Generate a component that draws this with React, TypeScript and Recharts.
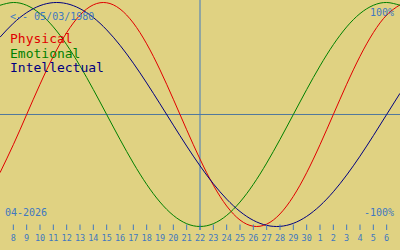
import { LineChart, Line, XAxis, YAxis, ReferenceLine } from "recharts";

// day index 0 = 7 April, 15 = 22 April (today), 30 = 7 May
const dayIndex = [
  0, 1, 2, 3, 4, 5, 6, 7, 8, 9, 10, 11, 12, 13, 14, 15, 16, 17, 18, 19, 20, 21,
  22, 23, 24, 25, 26, 27, 28, 29, 30,
];

const physical = [
  -0.5196, -0.2698, 0, 0.2698, 0.5196, 0.7308, 0.8879, 0.9791, 0.9977, 0.9423,
  0.817, 0.6311, 0.3984, 0.1362, -0.1362, -0.3984, -0.6311, -0.817, -0.9423,
  -0.9977, -0.9791, -0.8879, -0.7308, -0.5196, -0.2698, 0, 0.2698, 0.5196,
  0.7308, 0.8879, 0.9791,
];

const emotional = [
  0.9749, 1, 0.9749, 0.901, 0.7818, 0.6235, 0.4339, 0.2225, 0, -0.2225,
  -0.4339, -0.6235, -0.7818, -0.901, -0.9749, -1, -0.9749, -0.901, -0.7818,
  -0.6235, -0.4339, -0.2225, 0, 0.2225, 0.4339, 0.6235, 0.7818, 0.901, 0.9749,
  1, 0.9749,
];

const intellectual = [
  0.6901, 0.8146, 0.9096, 0.9718, 0.9989, 0.9898, 0.945, 0.866, 0.7557, 0.6182,
  0.4582, 0.2817, 0.0951, -0.0951, -0.2817, -0.4582, -0.6182, -0.7557, -0.866,
  -0.945, -0.9898, -0.9989, -0.9718, -0.9096, -0.8146, -0.6901, -0.5406,
  -0.3717, -0.1893, 0, 0.1893,
];

const tickDays = [
  "8", "9", "10", "11", "12", "13", "14", "15", "16", "17", "18", "19", "20",
  "21", "22", "23", "24", "25", "26", "27", "28", "29", "30", "1", "2", "3",
  "4", "5", "6",
];

const data = dayIndex.map((i) => ({
  i,
  physical: physical[i],
  emotional: emotional[i],
  intellectual: intellectual[i],
}));

const BG = "#e0d282";
const AXIS_BLUE = "#4078c0";
const MONO = "'DejaVu Sans Mono', 'Liberation Mono', monospace";

const DayTick = (props: any) => {
  const { x, y, payload } = props;
  const label = tickDays[payload.value - 1];
  return (
    <g>
      <line x1={x} x2={x} y1={y - 5.5} y2={y} stroke={AXIS_BLUE} strokeWidth={1} />
      <text
        x={x}
        y={y + 11}
        fill={AXIS_BLUE}
        textAnchor="middle"
        fontSize={8.5}
        fontFamily={MONO}
      >
        {label}
      </text>
    </g>
  );
};

export default function App() {
  return (
    <div
      style={{
        position: "absolute",
        left: 0,
        top: 0,
        width: 400,
        height: 250,
        background: BG,
        overflow: "hidden",
      }}
    >
      <LineChart
        width={400}
        height={250}
        data={data}
        margin={{ top: 0, right: 0, bottom: 0, left: 0 }}
      >
        <XAxis
          dataKey="i"
          type="number"
          domain={[0, 30]}
          ticks={dayIndex.slice(1, 30)}
          interval={0}
          height={20}
          axisLine={false}
          tickLine={false}
          tickSize={0}
          tickMargin={0}
          tick={DayTick}
        />
        <YAxis hide domain={[-1.03125, 1.0223]} allowDataOverflow />
        <ReferenceLine y={0} stroke="#50789c" strokeWidth={1} />
        <ReferenceLine x={15} stroke={AXIS_BLUE} strokeWidth={1} />
        <Line
          dataKey="physical"
          type="natural"
          stroke="#e00000"
          strokeWidth={1}
          dot={false}
          activeDot={false}
          isAnimationActive={false}
        />
        <Line
          dataKey="emotional"
          type="natural"
          stroke="#008000"
          strokeWidth={1}
          dot={false}
          activeDot={false}
          isAnimationActive={false}
        />
        <Line
          dataKey="intellectual"
          type="natural"
          stroke="#000080"
          strokeWidth={1}
          dot={false}
          activeDot={false}
          isAnimationActive={false}
        />
      </LineChart>
      <svg
        width={400}
        height={250}
        style={{ position: "absolute", left: 0, top: 0, pointerEvents: "none" }}
      >
        <g fontFamily={MONO}>
          <text x={10} y={20} fontSize={10} fill={AXIS_BLUE}>
            {"<-- 05/03/1980"}
          </text>
          <text x={10} y={43} fontSize={13} fill="#e00000">
            Physical
          </text>
          <text x={10} y={57.5} fontSize={13} fill="#008000">
            Emotional
          </text>
          <text x={10} y={72} fontSize={13} fill="#000080">
            Intellectual
          </text>
          <text x={394} y={15.5} fontSize={10} fill={AXIS_BLUE} textAnchor="end">
            100%
          </text>
          <text x={394} y={216} fontSize={10} fill={AXIS_BLUE} textAnchor="end">
            -100%
          </text>
          <text x={5} y={216} fontSize={10} fill={AXIS_BLUE}>
            04-2026
          </text>
        </g>
      </svg>
    </div>
  );
}
